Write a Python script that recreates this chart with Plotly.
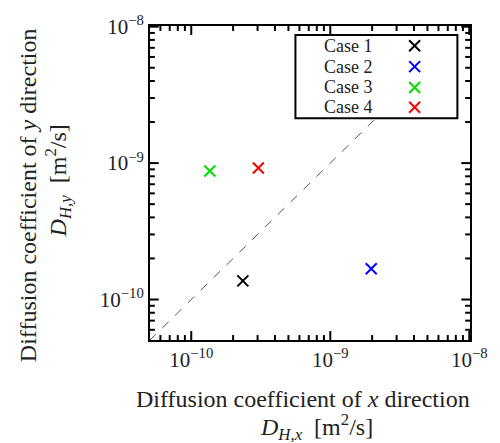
import numpy as np
import plotly.graph_objects as go

cases = ["Case 1", "Case 2", "Case 3", "Case 4"]
colors = ["black", "blue", "#00e000", "red"]
dx = [2.35e-10, 1.97e-9, 1.36e-10, 3.04e-10]
dy = [1.37e-10, 1.68e-10, 8.75e-10, 9.2e-10]
major_ticks = [1e-10, 1e-9, 1e-8]
major_text = ["10<sup>−10</sup>", "10<sup>−9</sup>", "10<sup>−8</sup>"]
minor_ticks = [m * 10.0 ** e for e in (-11, -10, -9) for m in range(2, 10)]

FONT = "Liberation Serif"
W, H = 500, 443
ML, MR, MT, MB = 150, 20, 23, 103
PW, PH = W - ML - MR, H - MT - MB
rng = [np.log10(5.05e-11), -7.995]
span = rng[1] - rng[0]

# legend box in paper coordinates
lx0, lx1, ly0, ly1 = 0.4545, 0.9606, 0.7066, 0.9716
rows = [0.9369, 0.8707, 0.8044, 0.7413]
mark_x = 0.827

def p2d(p):
    return 10 ** (rng[0] + p * span)

# y = x reference line, ending where it meets the legend box
diag = [5e-11, p2d(ly0)]

fig = go.Figure()
fig.add_trace(go.Scatter(x=diag, y=diag, mode="lines",
                         line=dict(color="#555555", width=1, dash="dash"),
                         showlegend=False, hoverinfo="skip"))
for name, c, x, y in zip(cases, colors, dx, dy):
    fig.add_trace(go.Scatter(x=[x], y=[y], mode="markers", name=name,
                             marker=dict(symbol="x-thin", size=11,
                                         line=dict(color=c, width=2)),
                             showlegend=False))

# inside tick marks on all four sides, placed through the log axes
def tick_segments(vals, length_px):
    lo, hi = rng
    vals = [v for v in vals if lo <= np.log10(v) <= hi + 1e-9]
    dxl = length_px * span / PW
    dyl = length_px * span / PH
    xs, ys = [], []
    for v in vals:
        # bottom and top (x ticks)
        xs += [v, v, None, v, v, None]
        ys += [10 ** lo, 10 ** (lo + dyl), None, 10 ** hi, 10 ** (hi - dyl), None]
        # left and right (y ticks)
        xs += [10 ** lo, 10 ** (lo + dxl), None, 10 ** hi, 10 ** (hi - dxl), None]
        ys += [v, v, None, v, v, None]
    return xs, ys

for vals, ln in ((major_ticks, 9), (minor_ticks, 5)):
    tx, ty = tick_segments(vals, ln)
    fig.add_trace(go.Scatter(x=tx, y=ty, mode="lines", line=dict(color="black", width=2),
                             cliponaxis=False, showlegend=False, hoverinfo="skip"))

# legend markers
fig.add_trace(go.Scatter(x=[p2d(mark_x)] * 4, y=[p2d(r) for r in rows], mode="markers",
                         marker=dict(symbol="x-thin", size=11,
                                     line=dict(color=colors, width=2)),
                         showlegend=False, hoverinfo="skip"))
fig.add_shape(type="rect", xref="paper", yref="paper", x0=lx0, x1=lx1, y0=ly0, y1=ly1,
              fillcolor="white", line=dict(color="black", width=2), layer="below")
for name, yy in zip(cases, rows):
    fig.add_annotation(x=0.539, y=yy, xref="paper", yref="paper", text=name,
                       showarrow=False, xanchor="left", yanchor="middle",
                       font=dict(family=FONT, size=18, color="#222"))

def make_axis():
    return dict(type="log", range=rng, tickmode="array", tickvals=major_ticks,
                ticktext=major_text, ticks="", showline=True, linecolor="black",
                linewidth=2, mirror=True, showgrid=False, zeroline=False,
                tickfont=dict(family=FONT, size=21, color="#222"))

fig.update_layout(
    width=W, height=H,
    margin=dict(l=ML, r=MR, t=MT, b=MB),
    plot_bgcolor="white", paper_bgcolor="white",
    xaxis=make_axis(),
    yaxis=make_axis(),
)
# axis titles
fig.add_annotation(x=(308 - 150) / 330, y=-(400 - 340) / 317, xref="paper", yref="paper",
                   text="Diffusion coefficient of <i>x</i> direction", showarrow=False,
                   font=dict(family=FONT, size=24, color="#222"), yanchor="middle")
fig.add_annotation(x=(322 - 150) / 330, y=-(428 - 340) / 317, xref="paper", yref="paper",
                   text="<i>D</i><sub><i>H,x</i></sub>  [m<sup>2</sup>/s]", showarrow=False,
                   font=dict(family=FONT, size=24, color="#222"), yanchor="middle")
fig.add_annotation(x=-(150 - 25) / 330, y=(340 - 194) / 317, xref="paper", yref="paper",
                   text="Diffusion coefficient of <i>y</i> direction", showarrow=False,
                   textangle=-90, font=dict(family=FONT, size=24, color="#222"),
                   xanchor="center")
fig.add_annotation(x=-(150 - 55) / 330, y=(340 - 179) / 317, xref="paper", yref="paper",
                   text="<i>D</i><sub><i>H,y</i></sub>  [m<sup>2</sup>/s]", showarrow=False,
                   textangle=-90, font=dict(family=FONT, size=24, color="#222"),
                   xanchor="center")

fig.write_html("out.html")
